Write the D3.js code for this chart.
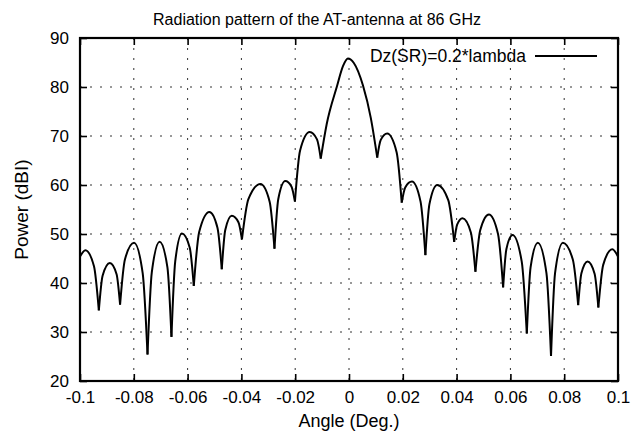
<!DOCTYPE html>
<html><head><meta charset="utf-8">
<script src="https://cdn.jsdelivr.net/npm/d3@7"></script>
<style>body{margin:0;background:#fff}svg{display:block}text{font-family:"Liberation Sans",Arial,Helvetica,sans-serif;fill:#000}</style>
</head><body><svg id="c" width="635" height="432"></svg>
<script>
const title = "Radiation pattern of the AT-antenna at 86 GHz";
const xLabel = "Angle (Deg.)";
const yLabel = "Power (dBI)";
const seriesName = "Dz(SR)=0.2*lambda";
const xTicks = [-0.1,-0.08,-0.06,-0.04,-0.02,0,0.02,0.04,0.06,0.08,0.1];
const xTickLabels = ["-0.1","-0.08","-0.06","-0.04","-0.02","0","0.02","0.04","0.06","0.08","0.1"];
const yTicks = [20,30,40,50,60,70,80,90];
const angle = [
 -0.1,-0.098,-0.0948,-0.093,-0.0916,-0.0889,-0.0864,-0.0851,-0.0833,-0.0799,-0.0767,-0.0749,
 -0.0733,-0.0704,-0.0675,-0.066,-0.0646,-0.0621,-0.0592,-0.0577,-0.0557,-0.0519,-0.0489,-0.0473,
 -0.046,-0.0436,-0.0411,-0.0398,-0.0374,-0.0329,-0.0295,-0.0277,-0.0263,-0.0237,-0.0214,-0.0201,
 -0.0182,-0.0146,-0.0119,-0.0105,-0.0083,-0.0045,-0.0022,-0.0004,0.0018,0.0052,0.0081,0.0105,
 0.0118,0.0142,0.0177,0.0196,0.0209,0.0234,0.0266,0.0284,0.0299,0.0328,0.0369,0.0391,
 0.0402,0.0422,0.0453,0.047,0.0488,0.052,0.0554,0.0573,0.0585,0.0608,0.0642,0.0661,
 0.0675,0.0702,0.0734,0.0751,0.0766,0.0795,0.0832,0.0852,0.0864,0.0887,0.0913,0.0927,
 0.0945,0.0979,0.1];
const power = [
 45.4,46.7,43.4,34.4,41.5,44.1,41.8,35.6,44.8,48.2,42.0,25.4,
 42.2,48.4,43.2,29.0,44.4,50.1,47.2,39.4,50.4,54.5,51.3,42.8,
 50.8,53.7,52.4,48.9,57.1,60.2,56.6,47.0,57.1,60.8,59.7,56.6,
 67.0,70.8,69.3,65.4,72.4,80.1,84.3,85.8,84.9,80.3,73.7,65.6,
 69.2,70.5,66.7,56.4,59.5,60.7,56.6,45.7,56.1,60.0,56.9,48.4,
 51.9,53.2,50.3,42.3,50.8,54.0,50.0,39.1,46.9,49.8,44.4,29.7,
 43.2,48.2,42.0,25.1,42.0,48.2,44.8,35.5,42.0,44.4,41.9,35.0,
 43.7,46.9,45.4];

const svg = d3.select("#c");
const m = {l:80, r:618, t:38, b:381};
const x = d3.scaleLinear().domain([-0.1,0.1]).range([m.l,m.r]);
const y = d3.scaleLinear().domain([20,90]).range([m.b,m.t]);

// grid
const g = svg.append("g");
g.selectAll(".gx").data(xTicks.slice(1,-1)).enter().append("line")
 .attr("x1",d=>x(d)).attr("x2",d=>x(d)).attr("y1",m.t).attr("y2",m.b)
 .attr("stroke","#333").attr("stroke-width",1).attr("stroke-dasharray","2,8");
g.selectAll(".gy").data(yTicks.slice(1,-1)).enter().append("line")
 .attr("y1",d=>y(d)).attr("y2",d=>y(d)).attr("x1",m.l).attr("x2",m.r)
 .attr("stroke","#333").attr("stroke-width",1).attr("stroke-dasharray","2,8");

// axes with inward ticks, mirrored
const fmtX = (d,i)=>xTickLabels[i];
const ax = d3.axisBottom(x).tickValues(xTicks).tickFormat(fmtX).tickSizeInner(-7).tickSizeOuter(0).tickPadding(10);
const axT = d3.axisTop(x).tickValues(xTicks).tickFormat("").tickSizeInner(-7).tickSizeOuter(0);
const ay = d3.axisLeft(y).tickValues(yTicks).tickSizeInner(-7).tickSizeOuter(0).tickPadding(11);
const ayR = d3.axisRight(y).tickValues(yTicks).tickFormat("").tickSizeInner(-7).tickSizeOuter(0);
function style(sel){sel.select(".domain").remove();sel.selectAll("line").attr("stroke","#000").attr("stroke-width",1.6);
 sel.selectAll("text").style("font-size","17px").attr("fill","#000");}
svg.append("g").attr("transform",`translate(0,${m.b})`).call(ax).call(style);
svg.append("g").attr("transform",`translate(0,${m.t})`).call(axT).call(style);
svg.append("g").attr("transform",`translate(${m.l},0)`).call(ay).call(style);
svg.append("g").attr("transform",`translate(${m.r},0)`).call(ayR).call(style);
svg.append("rect").attr("x",m.l).attr("y",m.t).attr("width",m.r-m.l).attr("height",m.b-m.t)
 .attr("fill","none").attr("stroke","#000").attr("stroke-width",2.2);

// curve: split at nulls (local minima) so cusps stay sharp
const pts = angle.map((a,i)=>[a,power[i]]);
const segs=[]; let cur=[pts[0]];
for(let i=1;i<pts.length;i++){cur.push(pts[i]);
 if(i<pts.length-1 && power[i]<power[i-1] && power[i]<power[i+1]){segs.push(cur);cur=[pts[i]];}}
segs.push(cur);
const line = d3.line().x(d=>x(d[0])).y(d=>y(d[1])).curve(d3.curveMonotoneX);
svg.append("g").selectAll("path").data(segs).enter().append("path")
 .attr("d",line).attr("fill","none").attr("stroke","#000").attr("stroke-width",2).attr("stroke-linejoin","round");

// legend
svg.append("text").attr("x",526).attr("y",62).attr("text-anchor","end").style("font-size","17.5px").text(seriesName);
svg.append("line").attr("x1",535).attr("x2",597).attr("y1",56).attr("y2",56).attr("stroke","#000").attr("stroke-width",1.8);

// labels
svg.append("text").attr("x",317).attr("y",25).attr("text-anchor","middle").style("font-size","16px").text(title);
svg.append("text").attr("x",(m.l+m.r)/2).attr("y",427).attr("text-anchor","middle").style("font-size","18px").text(xLabel);
svg.append("text").attr("transform",`translate(28,${(m.t+m.b)/2}) rotate(-90)`).attr("text-anchor","middle").style("font-size","19px").text(yLabel);
</script></body></html>
